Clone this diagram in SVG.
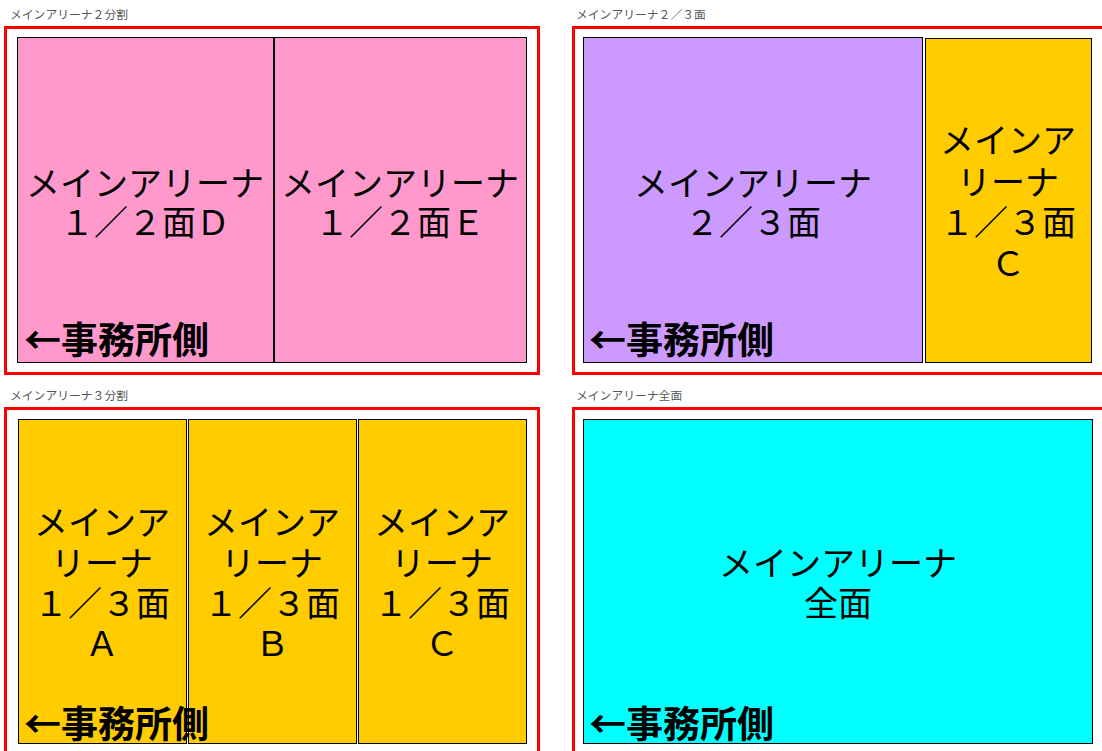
<svg xmlns="http://www.w3.org/2000/svg" width="1102" height="751" viewBox="0 0 1102 751">
<style>
.frame{fill:none;stroke:#ff0000;stroke-width:3}
.box{stroke:#000;stroke-width:1}
.title{font-family:"Noto Sans CJK JP","Noto Sans",sans-serif;font-size:11.8px;fill:#555}
.lbl{font-family:"Noto Sans CJK JP","Noto Sans",sans-serif;font-size:34px;fill:#000;text-anchor:middle}
.side{font-family:"Noto Sans CJK JP","Noto Sans",sans-serif;font-size:37px;font-weight:bold;fill:#000}
</style>
<rect width="1102" height="751" fill="#fff"/>
<g id="panel-2split">
<text class="title" x="10" y="19">メインアリーナ２分割</text>
<rect class="frame" x="5.5" y="27.5" width="533" height="346"/>
<g id="node-D"><rect class="box" x="17.5" y="37.5" width="256" height="325" fill="#ff99cc"/>
<text class="lbl" x="145" y="196">メインアリーナ</text><text class="lbl" x="145" y="235">１／２面Ｄ</text></g>
<g id="node-E"><rect class="box" x="274.5" y="37.5" width="252" height="325" fill="#ff99cc"/>
<text class="lbl" x="400" y="196">メインアリーナ</text><text class="lbl" x="400" y="235">１／２面Ｅ</text></g>
<text class="side" x="24" y="354">←事務所側</text>
</g>
<g id="panel-2-3">
<text class="title" x="576" y="19">メインアリーナ２／３面</text>
<rect class="frame" x="573.5" y="27.5" width="540" height="346"/>
<g id="node-23"><rect class="box" x="583.5" y="37.5" width="339" height="325" fill="#cc99ff"/>
<text class="lbl" x="753" y="196">メインアリーナ</text><text class="lbl" x="753" y="235">２／３面</text></g>
<g id="node-13C-top"><rect class="box" x="925.5" y="38.5" width="166" height="324" fill="#ffcc00"/>
<text class="lbl" x="1008" y="153">メインア</text><text class="lbl" x="1008" y="195">リーナ</text><text class="lbl" x="1008" y="235">１／３面</text><text class="lbl" x="1008" y="276">Ｃ</text></g>
<text class="side" x="589" y="354">←事務所側</text>
</g>
<g id="panel-3split">
<text class="title" x="10" y="400">メインアリーナ３分割</text>
<rect class="frame" x="5.5" y="408.5" width="533" height="400"/>
<g id="node-A"><rect class="box" x="18.5" y="419.5" width="168" height="324" fill="#ffcc00"/>
<text class="lbl" x="102" y="535">メインア</text><text class="lbl" x="102" y="576">リーナ</text><text class="lbl" x="102" y="616">１／３面</text><text class="lbl" x="102" y="656">Ａ</text></g>
<g id="node-B"><rect class="box" x="188.5" y="419.5" width="168" height="324" fill="#ffcc00"/>
<text class="lbl" x="272" y="535">メインア</text><text class="lbl" x="272" y="576">リーナ</text><text class="lbl" x="272" y="616">１／３面</text><text class="lbl" x="272" y="656">Ｂ</text></g>
<g id="node-C"><rect class="box" x="358.5" y="419.5" width="168" height="324" fill="#ffcc00"/>
<text class="lbl" x="442" y="535">メインア</text><text class="lbl" x="442" y="576">リーナ</text><text class="lbl" x="442" y="616">１／３面</text><text class="lbl" x="442" y="656">Ｃ</text></g>
<text class="side" x="24" y="738">←事務所側</text>
</g>
<g id="panel-full">
<text class="title" x="576" y="400">メインアリーナ全面</text>
<rect class="frame" x="573.5" y="408.5" width="540" height="400"/>
<g id="node-full"><rect class="box" x="583.5" y="419.5" width="509" height="324" fill="#00ffff"/>
<text class="lbl" x="838" y="576">メインアリーナ</text><text class="lbl" x="838" y="616">全面</text></g>
<text class="side" x="589" y="738">←事務所側</text>
</g>
<g id="connectors"/>
</svg>
